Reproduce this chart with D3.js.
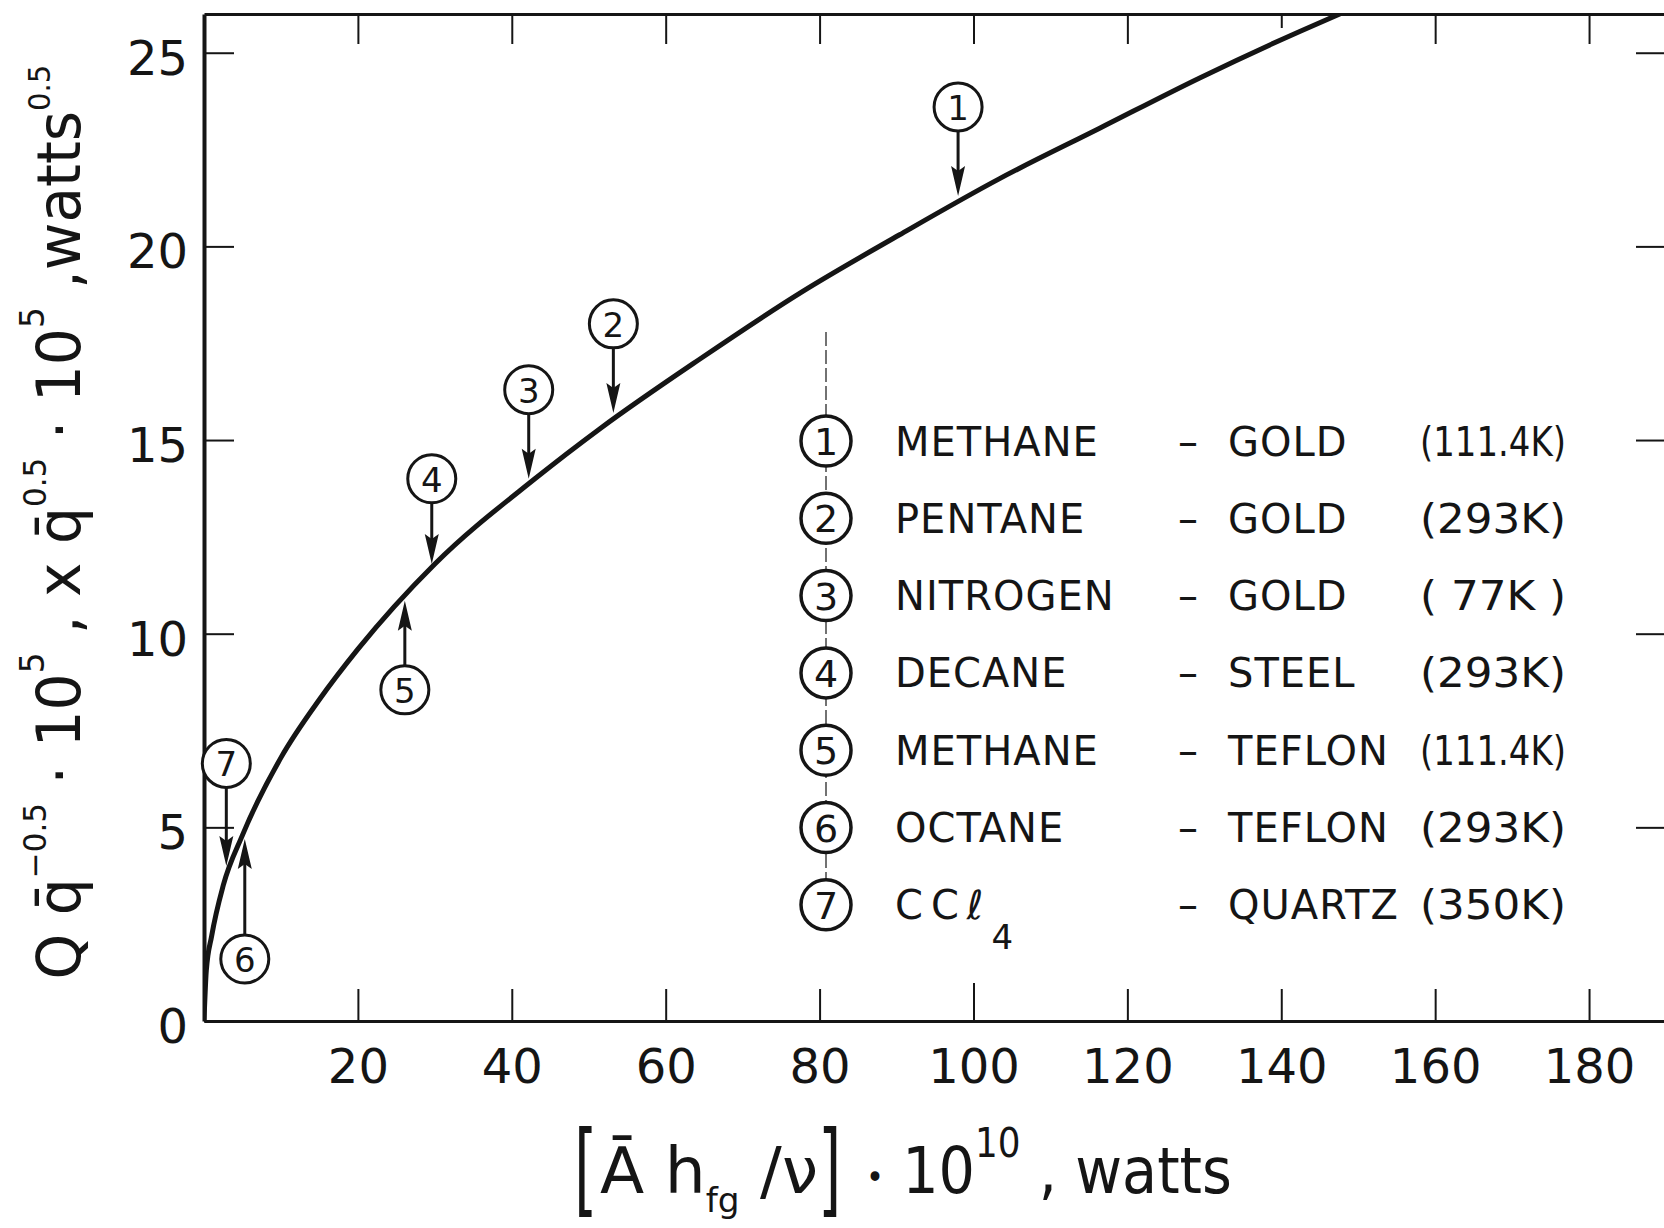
<!DOCTYPE html>
<html>
<head>
<meta charset="utf-8">
<script src="https://cdn.jsdelivr.net/npm/d3@7"></script>
<style>
  body { margin: 0; background: #fff; }
  svg { display: block; font-family: "DejaVu Sans", sans-serif; }
</style>
</head>
<body>
<div id="chart"></div>
<script>
const width = 1664;
const height = 1228;
const margin = { top: 14, right: -2, bottom: 207, left: 204 };
const ink = "#151515";

const xTicks = [20, 40, 60, 80, 100, 120, 140, 160, 180];
const yTicks = [0, 5, 10, 15, 20, 25];
const yTicksRight = [5, 10, 15, 20, 25];

// curve
const curveX = [0, 0.3, 1, 2.5, 5, 10, 15, 20, 30, 43, 51.5, 64.5, 77.5, 90.4, 103.4, 116.4, 129.4, 142.4, 147.6];
const curveY = [0, 1.3, 2.2, 3.5, 4.8, 6.8, 8.3, 9.6, 11.8, 14.0, 15.3, 17.1, 18.8, 20.3, 21.75, 23.05, 24.35, 25.55, 26.0];

// numbered arrows pointing at the curve
const markerIds = [1, 2, 3, 4, 5, 6, 7];
const markerX = [98.0, 53.2, 42.2, 29.6, 26.1, 5.3, 2.9];
const markerTipY = [21.3, 15.7, 14.0, 11.8, 10.85, 4.7, 4.0];
const markerLabelY = [23.6, 18.0, 16.3, 14.0, 8.55, 1.6, 6.65];

// legend
const legendFluids = ["METHANE", "PENTANE", "NITROGEN", "DECANE", "METHANE", "OCTANE", "CCℓ"];
const legendFluidSub = ["", "", "", "", "", "", "4"];
const legendSurfaces = ["GOLD", "GOLD", "GOLD", "STEEL", "TEFLON", "TEFLON", "QUARTZ"];
const legendTemps = ["(111.4K)", "(293K)", "( 77K )", "(293K)", "(111.4K)", "(293K)", "(350K)"];

const x = d3.scaleLinear().domain([0, 190]).range([margin.left, width - margin.right]);
const y = d3.scaleLinear().domain([0, 26]).range([height - margin.bottom, margin.top]);

function createSVG(container) {
  return d3
    .select(container)
    .append("svg")
    .attr("width", width)
    .attr("height", height);
}

function styleAxis(g, w) {
  g.select(".domain").attr("stroke", ink).attr("stroke-width", w);
  g.selectAll(".tick line").attr("stroke", ink).attr("stroke-width", 2);
  g.selectAll(".tick text")
    .attr("fill", ink)
    .attr("font-size", 48)
    .attr("font-family", "DejaVu Sans, sans-serif");
}

function drawAxes(svg) {
  const bottom = svg
    .append("g")
    .attr("transform", `translate(0,${y(0)})`)
    .call(d3.axisBottom(x).tickValues(xTicks).tickSizeInner(-32).tickSizeOuter(0).tickPadding(28));
  styleAxis(bottom, 3);
  bottom.selectAll(".tick").filter((d) => d === 100).select("line").attr("y2", -38);

  const top = svg
    .append("g")
    .attr("transform", `translate(0,${y(26)})`)
    .call(d3.axisTop(x).tickValues(xTicks).tickSizeInner(-30).tickSizeOuter(0).tickFormat(""));
  styleAxis(top, 3);
  top.selectAll(".tick").filter((d) => d === 140).select("line").attr("y2", 14);

  const left = svg
    .append("g")
    .attr("transform", `translate(${x(0)},0)`)
    .call(d3.axisLeft(y).tickValues(yTicks).tickSizeInner(-30).tickSizeOuter(0).tickPadding(16));
  styleAxis(left, 4);
  left.selectAll(".tick text").attr("dy", "0.45em");

  const right = svg
    .append("g")
    .attr("transform", `translate(${x(190)},0)`)
    .call(d3.axisRight(y).tickValues(yTicksRight).tickSizeInner(-30).tickSizeOuter(0).tickFormat(""));
  styleAxis(right, 3);
}

function drawCurve(svg) {
  svg
    .append("clipPath")
    .attr("id", "plot-clip")
    .append("rect")
    .attr("x", x(0))
    .attr("y", y(26))
    .attr("width", x(190) - x(0))
    .attr("height", y(0) - y(26));

  const line = d3
    .line()
    .x((d) => x(d[0]))
    .y((d) => y(d[1]))
    .curve(d3.curveMonotoneX);

  svg
    .append("path")
    .datum(d3.zip(curveX, curveY))
    .attr("clip-path", "url(#plot-clip)")
    .attr("fill", "none")
    .attr("stroke", ink)
    .attr("stroke-width", 5)
    .attr("stroke-linecap", "round")
    .attr("d", line);
}

function drawMarkers(svg) {
  const r = 24;
  const g = svg.append("g");
  markerIds.forEach((id, i) => {
    const cx = x(markerX[i]);
    const cy = y(markerLabelY[i]);
    const ty = y(markerTipY[i]);
    const dir = ty > cy ? 1 : -1; // 1 = arrow points down

    g.append("line")
      .attr("x1", cx)
      .attr("x2", cx)
      .attr("y1", cy + dir * r)
      .attr("y2", ty - dir * 20)
      .attr("stroke", ink)
      .attr("stroke-width", 3);

    g.append("path")
      .attr("d", `M${cx},${ty} L${cx - 7},${ty - dir * 30} L${cx},${ty - dir * 25} L${cx + 7},${ty - dir * 30} Z`)
      .attr("fill", ink);

    g.append("circle")
      .attr("cx", cx)
      .attr("cy", cy)
      .attr("r", r)
      .attr("fill", "#fff")
      .attr("stroke", ink)
      .attr("stroke-width", 3);

    g.append("text")
      .attr("x", cx)
      .attr("y", cy + 1)
      .attr("text-anchor", "middle")
      .attr("dominant-baseline", "central")
      .attr("font-size", 34)
      .attr("fill", ink)
      .text(id);
  });
}

function drawLegend(svg) {
  const colX = 826;
  const rowY0 = 441;
  const rowStep = 77.3;
  const g = svg.append("g");

  // faint dashed guide through the numbers
  g.append("line")
    .attr("x1", colX)
    .attr("x2", colX)
    .attr("y1", 332)
    .attr("y2", rowY0 + rowStep * 6)
    .attr("stroke", "#444")
    .attr("stroke-width", 1.5)
    .attr("stroke-dasharray", "14 4");

  legendFluids.forEach((fluid, i) => {
    const cy = rowY0 + i * rowStep;
    const base = cy + 14.5;

    g.append("circle")
      .attr("cx", colX)
      .attr("cy", cy)
      .attr("r", 25)
      .attr("fill", "#fff")
      .attr("stroke", ink)
      .attr("stroke-width", 3.5);
    g.append("text")
      .attr("x", colX)
      .attr("y", cy + 1)
      .attr("text-anchor", "middle")
      .attr("dominant-baseline", "central")
      .attr("font-size", 38)
      .attr("fill", ink)
      .text(markerIds[i]);

    const t = g.append("text")
      .attr("x", 895)
      .attr("y", base)
      .attr("font-size", 40)
      .attr("letter-spacing", fluid === "CCℓ" ? 8 : 1)
      .attr("fill", ink)
      .text(fluid);
    if (legendFluidSub[i]) {
      t.append("tspan").attr("dy", 30).attr("font-size", 34).text(legendFluidSub[i]);
    }

    g.append("text")
      .attr("x", 1178)
      .attr("y", base)
      .attr("font-size", 40)
      .attr("fill", ink)
      .text("–");

    g.append("text")
      .attr("x", 1228)
      .attr("y", base)
      .attr("font-size", 40)
      .attr("letter-spacing", 1)
      .attr("fill", ink)
      .text(legendSurfaces[i]);

    g.append("text")
      .attr("x", 1420)
      .attr("y", base)
      .attr("font-size", 40)
      .attr("textLength", 146)
      .attr("lengthAdjust", "spacingAndGlyphs")
      .attr("fill", ink)
      .text(legendTemps[i]);
  });
}

// pieces: [text, font size, baseline shift in px (negative = up)]
function addPieces(textSel, pieces) {
  let prev = 0;
  pieces.forEach(([str, size, shift]) => {
    textSel
      .append("tspan")
      .attr("font-size", size)
      .attr("dy", shift - prev)
      .text(str);
    prev = shift;
  });
}

// horizontal text squeezed/stretched to fit [x0, x0 + w]
function fitText(svg, pieces, x0, base, w) {
  const t = svg.append("text").attr("fill", ink).attr("x", 0).attr("y", 0);
  addPieces(t, pieces);
  const b = t.node().getBBox();
  t.attr("transform", `translate(${x0},${base}) scale(${w / b.width},1) translate(${-b.x},0)`);
  return t;
}

function drawTitles(svg) {
  // y title, written along the axis and squeezed to the reference length
  const yTitle = svg.append("text").attr("fill", ink).attr("x", 0).attr("y", 0);
  addPieces(yTitle, [
    ["Q ", 60, 0],
    ["q\u0304", 60, 0],
    ["\u22120.5", 32, -34],
    [" \u00b7 10", 60, 0],
    ["5", 34, -36],
    [" , x ", 60, 0],
    ["q\u0304", 60, 0],
    ["0.5", 32, -34],
    [" \u00b7 10", 60, 0],
    ["5", 34, -36],
    [" ,watts", 60, 0],
    ["0.5", 30, -30],
  ]);
  const yb = yTitle.node().getBBox();
  yTitle.attr(
    "transform",
    `translate(80,522) rotate(-90) scale(${915 / yb.width},1) translate(${-yb.x - yb.width / 2},0)`
  );

  // x title: [ Ā h_fg / ν ] · 10^10 , watts
  const base = 1193;
  ["[", "]"].forEach((br, i) => {
    svg
      .append("text")
      .attr("transform", `translate(${i === 0 ? 574 : 818},${base + 10}) scale(1,1.7)`)
      .attr("font-size", 60)
      .attr("fill", ink)
      .text(br);
  });
  fitText(svg, [["\u0100 h", 64, 0], ["fg", 34, 19], [" /\u03bd", 64, 0]], 600, base, 218);
  fitText(svg, [["\u2022", 34, -4], [" 10", 64, 0], ["10", 40, -36], [" , watts", 64, 0]], 866, base, 366);
}

const svg = createSVG("#chart");
drawAxes(svg);
drawCurve(svg);
drawMarkers(svg);
drawLegend(svg);
drawTitles(svg);
</script>
</body>
</html>
